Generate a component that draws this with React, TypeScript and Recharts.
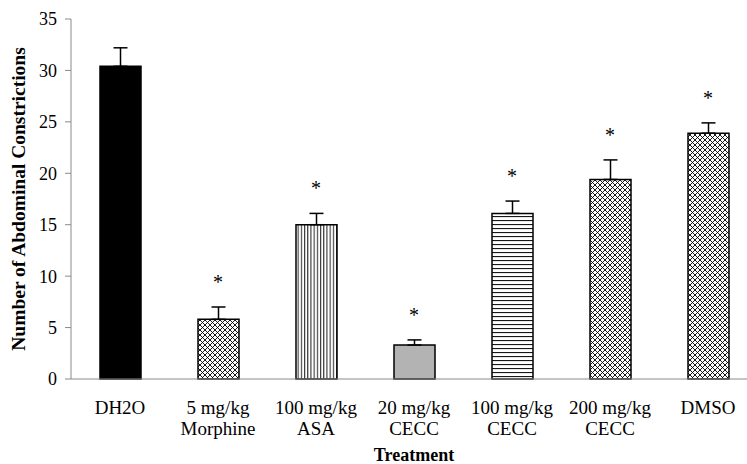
import { ComposedChart, Bar, Line, XAxis, YAxis, ErrorBar, Cell, LabelList } from 'recharts'

const doseLabels = ['DH2O', '5 mg/kg', '100 mg/kg', '20 mg/kg', '100 mg/kg', '200 mg/kg', 'DMSO']
const drugLabels = ['', 'Morphine', 'ASA', 'CECC', 'CECC', 'CECC', '']
const means = [30.4, 5.8, 15.0, 3.3, 16.1, 19.4, 23.9]
const sems = [1.8, 1.2, 1.1, 0.5, 1.2, 1.9, 1.0]
const significant = [false, true, true, true, true, true, true]
const fills = ['#000000', 'url(#cross)', 'url(#vert)', '#b3b3b3', 'url(#horiz)', 'url(#cross)', 'url(#cross)']
const yTicks = [0, 5, 10, 15, 20, 25, 30, 35]
const edgeTicks = [0, 1, 2, 3, 4, 5, 6, 7]

const FONT = '"Liberation Serif", "Times New Roman", serif'
const AXIS = '#8a8a8a'

const data = doseLabels.map((dose, i) => ({
  name: dose,
  drug: drugLabels[i],
  mean: means[i],
  err: [0, sems[i]],
  top: means[i] + sems[i],
  star: significant[i] ? '*' : '',
}))

function CategoryTick({ x, y, index }: any) {
  return (
    <text x={x} y={y} textAnchor="middle" fontFamily={FONT} fontSize={19} fill="#000">
      <tspan x={x} dy={33}>{doseLabels[index]}</tspan>
      <tspan x={x} dy={21}>{drugLabels[index]}</tspan>
    </text>
  )
}

function Star({ x, y, value }: any) {
  if (!value) return null
  return (
    <text x={x} y={y - 18} textAnchor="middle" fontFamily={FONT} fontSize={20} fill="#000">
      {value}
    </text>
  )
}

function Patterns() {
  return (
    <svg width={0} height={0} style={{ position: 'absolute' }}>
      <defs>
        <pattern id="cross" patternUnits="userSpaceOnUse" width={5} height={5}>
          <rect width={5} height={5} fill="#fff" />
          <path d="M0,0 L5,5 M5,0 L0,5" stroke="#000" strokeWidth={0.9} />
        </pattern>
        <pattern id="vert" patternUnits="userSpaceOnUse" width={3.2} height={4}>
          <rect width={3.2} height={4} fill="#fff" />
          <line x1={0.6} y1={0} x2={0.6} y2={4} stroke="#000" strokeWidth={0.9} />
        </pattern>
        <pattern id="horiz" patternUnits="userSpaceOnUse" width={4} height={4}>
          <rect width={4} height={4} fill="#fff" />
          <line x1={0} y1={0.6} x2={4} y2={0.6} stroke="#000" strokeWidth={1} />
        </pattern>
      </defs>
    </svg>
  )
}

export default function App() {
  return (
    <div style={{ position: 'fixed', left: 0, top: 0, width: 747, height: 464, overflow: 'hidden', background: '#fff' }}>
      <Patterns />
      <ComposedChart width={760} height={464} data={data} margin={{ top: 19, right: 3, bottom: 0, left: 0 }}>
        <XAxis
          xAxisId="edges"
          type="number"
          domain={[0, 7]}
          ticks={edgeTicks}
          height={0}
          axisLine={false}
          tickLine={{ stroke: AXIS }}
          tickSize={5}
          tick={() => <g />}
        />
        <XAxis
          xAxisId="cat"
          dataKey="name"
          height={85}
          axisLine={{ stroke: AXIS }}
          tickLine={false}
          tickSize={0}
          interval={0}
          tick={<CategoryTick />}
          label={{
            content: ({ viewBox }: any) => (
              <text
                x={viewBox.x + viewBox.width / 2}
                y={viewBox.y + viewBox.height - 3}
                textAnchor="middle"
                fontFamily={FONT}
                fontSize={18}
                fontWeight="bold"
                fill="#000"
              >
                Treatment
              </text>
            ),
          }}
        />
        <YAxis
          width={71}
          domain={[0, 35]}
          ticks={yTicks}
          axisLine={{ stroke: AXIS }}
          tickLine={{ stroke: AXIS }}
          tickSize={6}
          tickMargin={8}
          tick={{ fontFamily: FONT, fontSize: 18, fill: '#000' }}
          label={{
            content: ({ viewBox }: any) => {
              const cx = viewBox.x + 18
              const cy = viewBox.y + 180
              return (
                <text
                  x={cx}
                  y={cy}
                  transform={`rotate(-90 ${cx} ${cy})`}
                  textAnchor="middle"
                  dominantBaseline="central"
                  fontFamily={FONT}
                  fontSize={19.5}
                  fontWeight="bold"
                  fill="#000"
                >
                  Number of Abdominal Constrictions
                </text>
              )
            },
          }}
        />
        <Bar xAxisId="cat" dataKey="mean" barSize={41} stroke="#000" strokeWidth={1.5} isAnimationActive={false}>
          {data.map((d, i) => (
            <Cell key={d.name + i} fill={fills[i]} />
          ))}
          <ErrorBar dataKey="err" direction="y" width={7} stroke="#000" strokeWidth={1.5} />
        </Bar>
        <Line
          xAxisId="cat"
          dataKey="top"
          stroke="none"
          dot={false}
          activeDot={false}
          isAnimationActive={false}
        >
          <LabelList dataKey="star" content={<Star />} />
        </Line>
      </ComposedChart>
    </div>
  )
}
